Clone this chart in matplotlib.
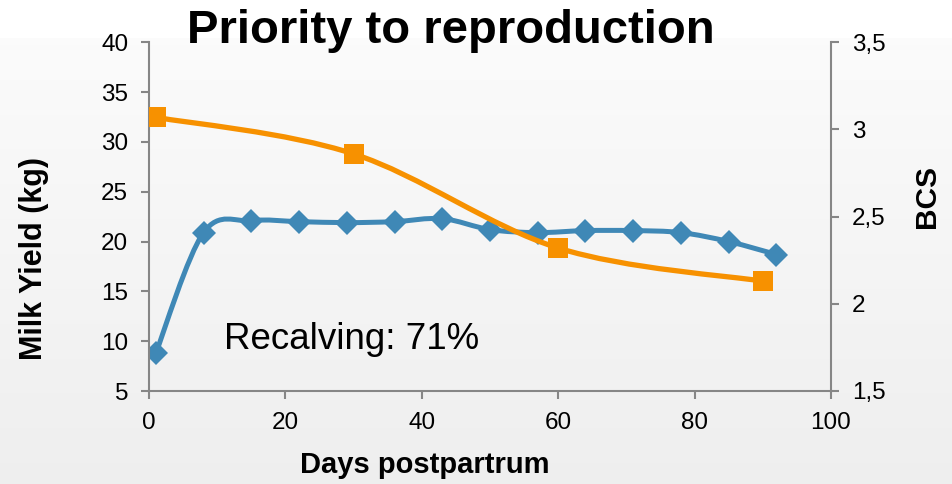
import numpy as np
import matplotlib.pyplot as plt
from matplotlib.path import Path
from matplotlib.patches import PathPatch

plt.rcParams['font.family'] = ['Liberation Sans', 'DejaVu Sans']

# Milk yield (kg), weekly records
milk_days = [1, 8, 15, 22, 29, 36, 43, 50, 57, 64, 71, 78, 85, 92]
milk_yield = [8.8, 20.9, 22.1, 22.0, 21.9, 22.0, 22.3, 21.2, 20.9, 21.1, 21.1, 20.9, 20.0, 18.7]

# Body condition score
bcs_days = [1, 30, 60, 90]
bcs_values = [3.07, 2.86, 2.32, 2.13]

milk_ticks = [5, 10, 15, 20, 25, 30, 35, 40]
bcs_ticks = [1.5, 2, 2.5, 3, 3.5]
bcs_tick_labels = ['1,5', '2', '2,5', '3', '3,5']
day_ticks = [0, 20, 40, 60, 80, 100]

BLUE = '#3F88B6'
ORANGE = '#F79100'
SPINE = '#868686'


def smooth_path(xs, ys):
    """Cubic Bezier path through the points (Catmull-Rom style smoothing)."""
    p = np.column_stack([xs, ys]).astype(float)
    ext = np.vstack([p[0], p, p[-1]])
    verts = [p[0]]
    codes = [Path.MOVETO]
    for i in range(len(p) - 1):
        p0, p1, p2, p3 = ext[i], ext[i + 1], ext[i + 2], ext[i + 3]
        c1 = p1 + (p2 - p0) / 6.0
        c2 = p2 - (p3 - p1) / 6.0
        verts += [c1, c2, p2]
        codes += [Path.CURVE4] * 3
    return Path(verts, codes)


fig = plt.figure(figsize=(9.53, 4.84), dpi=100)
fig.patch.set_facecolor('white')

# soft grey gradient behind the plot area
bg = fig.add_axes([0, 0, 1, (484 - 38) / 484], zorder=-10)
grad = np.linspace(0.985, 0.935, 256).reshape(-1, 1)
bg.imshow(np.dstack([grad, grad, grad]), aspect='auto', extent=[0, 1, 0, 1],
          interpolation='bilinear')
bg.axis('off')

ax = fig.add_axes([149 / 953, 1 - 391 / 484, (831 - 149) / 953, (391 - 42.3) / 484])
ax.patch.set_alpha(0)
ax2 = ax.twinx()

ax.add_patch(PathPatch(smooth_path(milk_days, milk_yield), facecolor='none',
                       edgecolor=BLUE, lw=3.6, capstyle='round', joinstyle='round'))
ax.plot(milk_days, milk_yield, linestyle='none', marker='D', markersize=12,
        color=BLUE, markeredgewidth=0)

ax2.add_patch(PathPatch(smooth_path(bcs_days, bcs_values), facecolor='none',
                        edgecolor=ORANGE, lw=3.8, capstyle='round', joinstyle='round'))
ax2.plot(bcs_days, bcs_values, linestyle='none', marker='s', markersize=14.5,
         color=ORANGE, markeredgewidth=0)

ax.set_xlim(0, 100)
ax.set_ylim(5, 40)
ax2.set_ylim(1.5, 3.5)
ax.set_xticks(day_ticks)
ax.set_yticks(milk_ticks)
ax2.set_yticks(bcs_ticks)
ax2.set_yticklabels(bcs_tick_labels)

for a in (ax, ax2):
    a.spines['top'].set_visible(False)
    for side in ('left', 'right', 'bottom'):
        a.spines[side].set_color(SPINE)
        a.spines[side].set_linewidth(1.5)
    a.tick_params(colors=SPINE, labelcolor='black', labelsize=17.5, length=6,
                  width=1.5, pad=9)
ax.spines['right'].set_visible(False)
ax2.spines['left'].set_visible(False)
ax2.spines['bottom'].set_visible(False)

fig.text(451 / 953, 1 - 43 / 484, 'Priority to reproduction', ha='center', va='baseline',
         fontsize=34, fontweight='bold')
fig.text(425 / 953, 1 - 465 / 484, 'Days postpartrum', ha='center', va='center',
         fontsize=21, fontweight='bold')
fig.text(34 / 953, 1 - 258 / 484, 'Milk Yield (kg)', ha='center', va='center',
         rotation=90, fontsize=22, fontweight='bold')
fig.text(927 / 953, 1 - 196 / 484, 'BCS', ha='center', va='center',
         rotation=90, fontsize=21.5, fontweight='bold')
ax.text(11, 9.2, 'Recalving: 71%', fontsize=26.5, ha='left', va='baseline')

fig.savefig('out.png', dpi=100)
